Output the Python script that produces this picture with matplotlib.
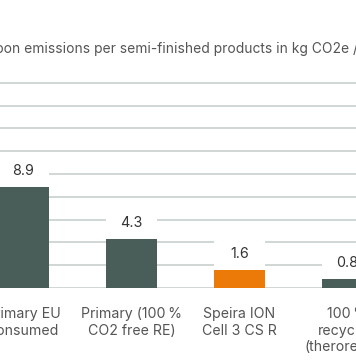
import numpy as np
import matplotlib
matplotlib.use('Agg')
import matplotlib.pyplot as plt

plt.rcParams['font.family'] = ['Inter', 'DejaVu Sans']

# data
categories = ['Primary EU\nconsumed', 'Primary (100\u2009%\nCO2 free RE)',
              'Speira ION\nCell 3 CS R', '100\u2009%\nrecycled\n(theroretical)']
values = [8.9, 4.3, 1.6, 0.8]
colors = ['#4a5e59', '#4a5e59', '#ec7a08', '#4a5e59']
title = 'Carbon emissions per semi-finished products in kg CO2e / kg'

W, H = 356, 364
fig = plt.figure(figsize=(W / 100, H / 100), dpi=100)

# axes: baseline at 288 px from top, top of figure is the axes top
base_px = 288
ax = fig.add_axes([0, (H - base_px) / H, 1, base_px / H])
px_per_unit = 11.4
ax.set_ylim(0, base_px / px_per_unit)
ax.set_xlim(-23.5 / 108, (W - 23.5) / 108)

x = np.arange(len(values))
bw = 51 / 108

# gridlines
for g in range(0, 20, 2):
    ax.axhline(g, color='#c3cbc8', lw=1.1, zorder=1)

ax.bar(x, values, width=bw, color=colors, zorder=3)
# white mask above bars so grid stops behind value labels
ax.bar(x, [2.5] * len(values), bottom=values, width=bw, color='white', zorder=2)

for xi, v in zip(x, values):
    ax.text(xi, v + 1.4, f'{v:.1f}', ha='center', va='center',
            fontsize=10.3, color='#333333', zorder=4)

for xi, c in zip(x, categories):
    ax.text(xi, -1.65, c, ha='center', va='top', fontsize=10.2,
            color='#555555', linespacing=1.25, clip_on=False)

ax.axis('off')

fig.text(-28 / W, 1 - 49 / H, title, ha='left', va='center',
         fontsize=9.95, color='#555555')

fig.savefig('out.png', dpi=100)
